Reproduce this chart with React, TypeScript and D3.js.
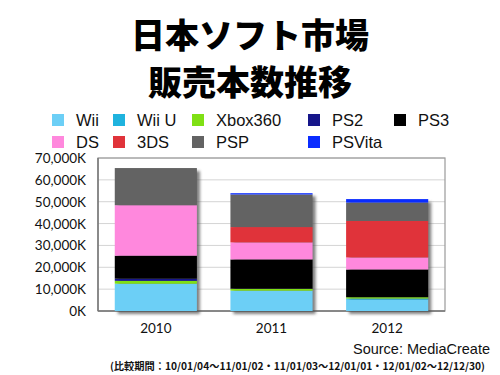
import React from "react";
import * as d3 from "d3";

const years = ["2010", "2011", "2012"];
const platforms = ["Wii", "Wii U", "Xbox360", "PS2", "PS3", "DS", "3DS", "PSP", "PSVita"];
const colors = ["#6ccff6", "#1fb3de", "#7fe014", "#16168a", "#000000", "#ff88dd", "#e0333a", "#636363", "#0a2cff"];
// values in thousands (K)
const wii = [12500, 9300, 5200];
const wiiU = [0, 0, 500];
const xbox360 = [1300, 800, 600];
const ps2 = [1000, 100, 0];
const ps3 = [10500, 13400, 12700];
const ds = [23100, 7800, 5500];
const ds3 = [0, 7000, 16700];
const psp = [17000, 14900, 8400];
const psvita = [0, 600, 1600];
const yTicks = [0, 10000, 20000, 30000, 40000, 50000, 60000, 70000];

const series = [wii, wiiU, xbox360, ps2, ps3, ds, ds3, psp, psvita];

const legendRows = [
  ["Wii", "Wii U", "Xbox360", "PS2", "PS3"],
  ["DS", "3DS", "PSP", "PSVita"],
];
const legendX = [52, 113, 192, 308, 394];

export default function App() {
  const left = 98, right = 445, top = 158, bottom = 311;
  const x = d3.scaleBand<string>().domain(years).range([left, right]).paddingInner(0.29).paddingOuter(0.145);
  const y = d3.scaleLinear().domain([0, 70000]).range([bottom, top]);

  const table = years.map((yr, i) => {
    const row: any = { year: yr };
    platforms.forEach((p, j) => (row[p] = series[j][i]));
    return row;
  });
  const stacked = d3.stack<any>().keys(platforms)(table);
  const totals = years.map((_, i) => d3.sum(series, (s) => s[i]));
  const fmt = (v: number) => d3.format(",")(v) + "K";

  return (
    <svg width={500} height={375} style={{ position: "absolute", left: 0, top: 0, background: "#fff" }}>
      <defs>
        <filter id="sh" x="-20%" y="-20%" width="140%" height="140%">
          <feGaussianBlur stdDeviation="1.6" />
        </filter>
      </defs>
      <text x={250} y={33} textAnchor="middle" dominantBaseline="central"
        style={{ font: "900 34px 'Noto Sans CJK JP'" }} fill="#000">日本ソフト市場</text>
      <text x={250} y={80} textAnchor="middle" dominantBaseline="central"
        style={{ font: "900 34px 'Noto Sans CJK JP'" }} fill="#000">販売本数推移</text>

      {legendRows.map((row, ri) =>
        row.map((name, ci) => {
          const idx = platforms.indexOf(name);
          const cy = ri === 0 ? 120 : 142;
          return (
            <g key={name}>
              <rect x={legendX[ci]} y={cy - 6} width={12} height={12} fill={colors[idx]} />
              <text x={legendX[ci] + 24} y={cy} dominantBaseline="central"
                style={{ font: "500 16.5px 'Liberation Sans', Arial, sans-serif" }} fill="#111">{name}</text>
            </g>
          );
        })
      )}

      <rect x={left} y={top} width={right - left} height={bottom - top} fill="#fff" />
      {yTicks.map((t) => (
        <g key={t}>
          <line x1={left} x2={right} y1={y(t)} y2={y(t)} stroke="#d4d4d4" strokeWidth={1} />
          <text x={86} y={y(t)} textAnchor="end" dominantBaseline="central"
            style={{ font: "13.5px Lato, sans-serif" }} fill="#111">{fmt(t)}</text>
        </g>
      ))}
      <rect x={left} y={top} width={right - left} height={bottom - top} fill="none" stroke="#9a9a9a" strokeWidth={1.2} />
      <line x1={left} x2={left} y1={top} y2={bottom} stroke="#777" strokeWidth={1.5} />
      <line x1={left} x2={right} y1={bottom} y2={bottom} stroke="#777" strokeWidth={1.5} />

      {years.map((yr, i) => (
        <rect key={"s" + yr} x={(x(yr) as number) + 3} y={y(totals[i]) + 3} width={x.bandwidth()}
          height={bottom - y(totals[i])} fill="#555" opacity={0.75} filter="url(#sh)" />
      ))}
      {stacked.map((layer, j) =>
        layer.map((d, i) =>
          d[1] - d[0] > 0 ? (
            <rect key={platforms[j] + i} x={x(years[i])} y={y(d[1])} width={x.bandwidth()}
              height={y(d[0]) - y(d[1])} fill={colors[j]} />
          ) : null
        )
      )}

      {years.map((yr) => (
        <text key={"x" + yr} x={(x(yr) as number) + x.bandwidth() / 2} y={333} textAnchor="middle"
          style={{ font: "13.5px Lato, sans-serif" }} fill="#111">{yr}</text>
      ))}

      <text x={490} y={354} textAnchor="end" style={{ font: "500 14.5px 'Liberation Sans', Arial, sans-serif" }} fill="#111">
        Source: MediaCreate
      </text>
      <text x={110} y={369.5} textLength={375} lengthAdjust="spacingAndGlyphs"
        style={{ font: "bold 10px 'Noto Sans CJK JP'" }} fill="#111">
        (比較期間：10/01/04〜11/01/02・11/01/03〜12/01/01・12/01/02〜12/12/30)
      </text>
    </svg>
  );
}
